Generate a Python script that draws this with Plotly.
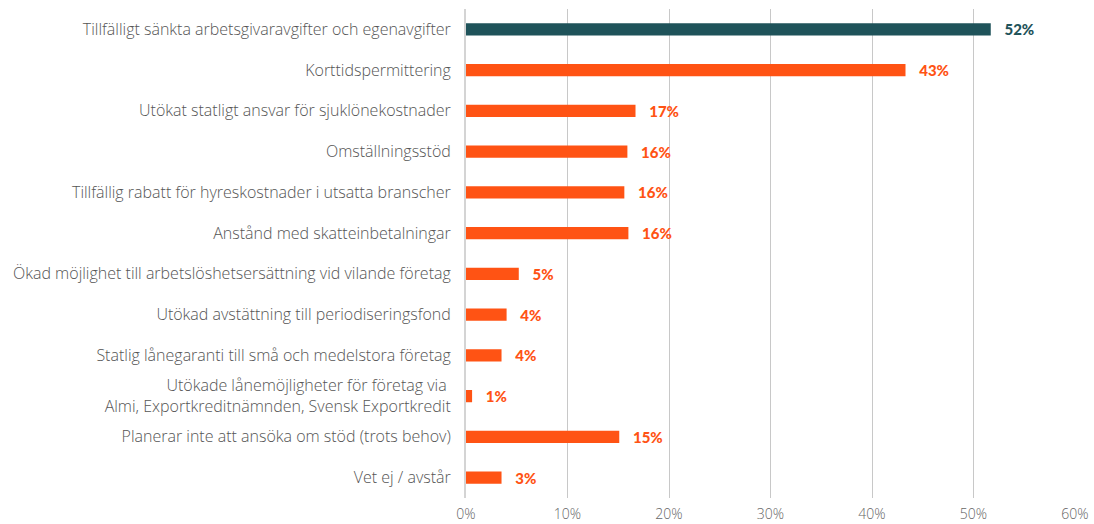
import plotly.graph_objects as go

categories = [
    "Tillfälligt sänkta arbetsgivaravgifter och egenavgifter",
    "Korttidspermittering",
    "Utökat statligt ansvar för sjuklönekostnader",
    "Omställningsstöd",
    "Tillfällig rabatt för hyreskostnader i utsatta branscher",
    "Anstånd med skatteinbetalningar",
    "Ökad möjlighet till arbetslöshetsersättning vid vilande företag",
    "Utökad avstättning till periodiseringsfond",
    "Statlig lånegaranti till små och medelstora företag",
    "Utökade lånemöjligheter för företag via <br>Almi, Exportkreditnämnden, Svensk Exportkredit",
    "Planerar inte att ansöka om stöd (trots behov)",
    "Vet ej / avstår",
]
values = [0.517, 0.433, 0.167, 0.159, 0.156, 0.160, 0.052, 0.040, 0.035, 0.006, 0.151, 0.035]
labels = ["52%", "43%", "17%", "16%", "16%", "16%", "5%", "4%", "4%", "1%", "15%", "3%"]
tick_vals = [0, 0.1, 0.2, 0.3, 0.4, 0.5, 0.6]
tick_text = ["0%", "10%", "20%", "30%", "40%", "50%", "60%"]

TEAL = "#1f535a"
ORANGE = "#ff5314"
colors = [TEAL] + [ORANGE] * (len(values) - 1)

fig = go.Figure(go.Bar(
    y=categories,
    x=values,
    orientation="h",
    marker=dict(color=colors, line=dict(width=0)),
    text=["\u00a0\u00a0\u00a0" + t for t in labels],
    textposition="outside",
    constraintext="none",
    cliponaxis=False,
    textfont=dict(family="Lato", size=15, color=colors, weight=900),
    hoverinfo="skip",
))

fig.update_layout(
    width=1094,
    height=524,
    margin=dict(l=466, r=19, t=9, b=26),
    plot_bgcolor="white",
    paper_bgcolor="white",
    bargap=0.7,
    showlegend=False,
    font=dict(family="Open Sans", size=14, color="#555555"),
)
fig.update_xaxes(
    range=[0, 0.6],
    tickvals=tick_vals,
    ticktext=tick_text,
    showgrid=True,
    gridcolor="#c8c8c8",
    gridwidth=1,
    zeroline=False,
    showline=False,
    automargin=False,
    ticklabelstandoff=6,
    tickfont=dict(family="Open Sans", size=14, color="#666666", weight=300),
    fixedrange=True,
)
fig.update_yaxes(
    autorange="reversed",
    showline=True,
    linecolor="#d4d4d4",
    linewidth=2,
    showgrid=False,
    ticks="",
    automargin=False,
    ticklabelstandoff=10,
    tickfont=dict(family="Open Sans", size=16, color="#555555", weight=300),
    fixedrange=True,
)

fig.write_html(
    "out.html",
    config={"displayModeBar": False},
    post_script="document.body.style.margin='0';document.body.style.overflow='hidden';",
)
